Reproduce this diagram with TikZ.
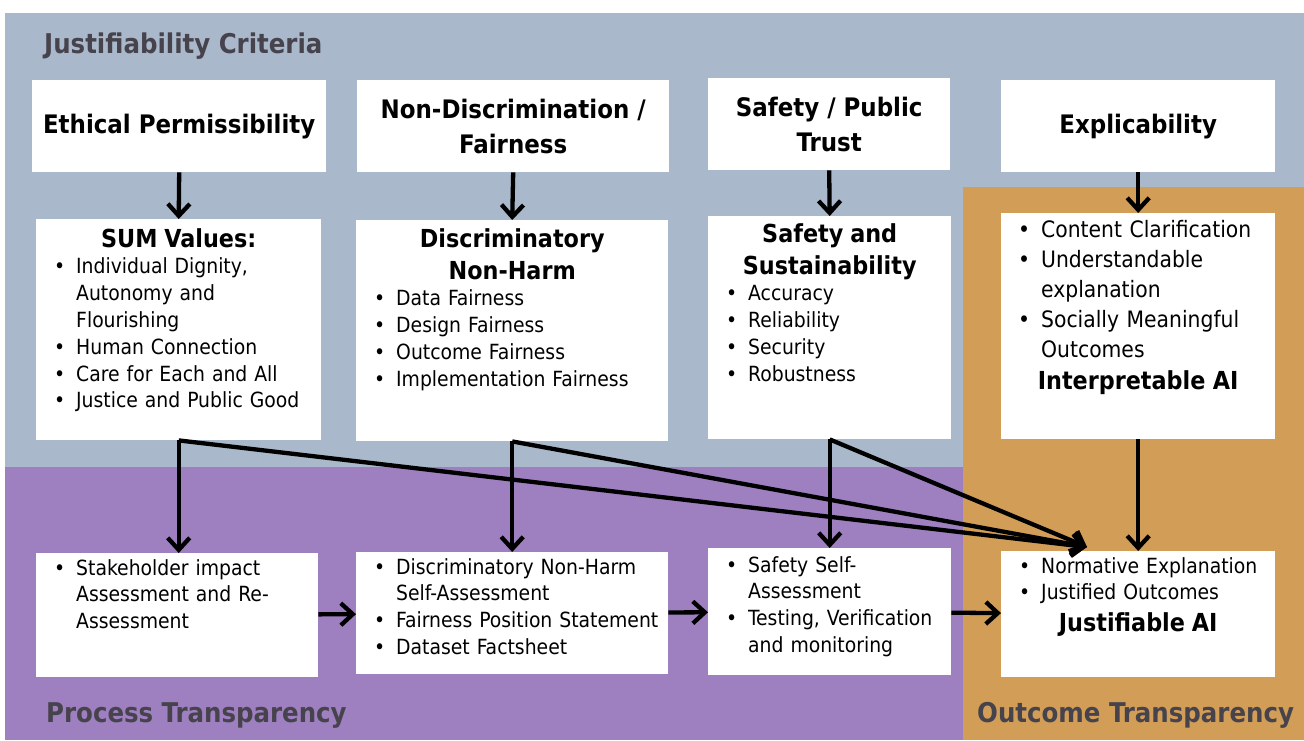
\documentclass[tikz,border=0pt]{standalone}
\usepackage{fontspec}
\setmainfont{DejaVu Sans Condensed}
\usepackage{tikz}
\usetikzlibrary{positioning,arrows.meta}

\definecolor{critblue}{HTML}{A9B8CA}
\definecolor{procpurple}{HTML}{9E7FC0}
\definecolor{outorange}{HTML}{D29E57}
\definecolor{lblgray}{HTML}{47434D}

\newcommand{\bodyfont}{\fontsize{20.9}{26.8}\selectfont}
\newcommand{\bigbody}{\fontsize{22.6}{30}\selectfont}
\newcommand{\headfont}{\fontsize{25.5}{35}\selectfont\bfseries}
\newcommand{\subhead}{\fontsize{24.8}{32}\selectfont\bfseries}
\newcommand{\areafont}{\fontsize{27.2}{30}\selectfont\bfseries}

\newenvironment{pts}{\begin{list}{\textbullet}{\setlength{\leftmargin}{36pt}%
  \setlength{\labelwidth}{14pt}\setlength{\labelsep}{11pt}\setlength{\itemsep}{0pt}%
  \setlength{\topsep}{0pt}\setlength{\parsep}{0pt}\setlength{\partopsep}{0pt}}}{\end{list}}

\begin{document}
\begin{tikzpicture}[x=1pt,y=-1pt]
    \tikzstyle{box}=[fill=white,inner sep=0pt,anchor=north west]
    \tikzstyle{crit}=[box,font=\headfont,align=center,minimum height=92pt]
    \tikzstyle{body}=[inner sep=0pt,align=left,font=\bodyfont]
    \tikzstyle{area}=[font=\areafont,text=lblgray,inner sep=0pt,anchor=base west]
    \tikzstyle{arr}=[-{Straight Barb[length=12pt,width=22pt]},line width=4.3pt]

    \useasboundingbox (0,0) rectangle (1304,740);
    \fill[critblue] (5,13) rectangle (1304,467);
    \fill[procpurple] (5,467) rectangle (963,740);
    \fill[outorange] (963,187) rectangle (1304,740);

    \node[area] (crit-lbl) at (44,53) {Justifiability Criteria};
    \node[area] (proc-lbl) at (46,722) {Process Transparency};
    \node[area] (out-lbl) at (977,722) {Outcome Transparency};

    % criteria row
    \node[crit,minimum width=294pt] (ethic) at (32,80) {Ethical Permissibility};
    \node[crit,minimum width=312pt] (nondisc) at (357,80) {Non-Discrimination /\\Fairness};
    \node[crit,minimum width=242pt] (trust) at (708,78) {Safety / Public\\Trust};
    \node[crit,minimum width=274pt] (expl) at (1001,80) {Explicability};

    % values row
    \node[box,minimum width=285pt,minimum height=221pt] (sum) at (36,219) {};
    \node[box,minimum width=312pt,minimum height=221pt] (harm) at (356,220) {};
    \node[box,minimum width=243pt,minimum height=223pt] (sust) at (708,216) {};
    \node[box,minimum width=274pt,minimum height=226pt] (interp) at (1001,213) {};

    \node[body,text width=277pt,below=9pt of sum.north] (sum-txt) {{\centering\subhead SUM Values:\par}
        \begin{pts}\item Individual Dignity,\\Autonomy and\\Flourishing \item Human Connection
        \item Care for Each and All \item Justice and Public Good\end{pts}};
    \node[body,text width=304pt,below=8pt of harm.north] (harm-txt) {{\centering\subhead Discriminatory\\Non-Harm\par}
        \begin{pts}\item Data Fairness \item Design Fairness \item Outcome Fairness
        \item Implementation Fairness\end{pts}};
    \node[body,text width=235pt,below=7pt of sust.north] (sust-txt) {{\centering\subhead Safety and\\Sustainability\par}
        \begin{pts}\item Accuracy \item Reliability \item Security \item Robustness\end{pts}};
    \node[body,font=\bigbody,text width=266pt,below=-6pt of interp.north] (interp-txt) {\begin{pts}
        \item Content Clarification \item Understandable\\explanation
        \item Socially Meaningful\\Outcomes\end{pts}
        {\centering\subhead Interpretable AI\par}};

    % transparency row
    \node[box,minimum width=282pt,minimum height=124pt] (stake) at (36,553) {};
    \node[box,minimum width=312pt,minimum height=122pt] (harm-sa) at (356,552) {};
    \node[box,minimum width=243pt,minimum height=127pt] (safe-sa) at (708,548) {};
    \node[box,minimum width=274pt,minimum height=126pt] (just) at (1001,551) {};

    \node[body,text width=274pt,below=-5pt of stake.north] (stake-txt) {\begin{pts}
        \item Stakeholder impact\\Assessment and Re-\\Assessment\end{pts}};
    \node[body,text width=304pt,below=-5pt of harm-sa.north] (harm-sa-txt) {\begin{pts}
        \item Discriminatory Non-Harm\\Self-Assessment \item Fairness Position Statement
        \item Dataset Factsheet\end{pts}};
    \node[body,text width=235pt,below=-3pt of safe-sa.north] (safe-sa-txt) {\begin{pts}
        \item Safety Self-\\Assessment \item Testing, Verification\\and monitoring\end{pts}};
    \node[body,text width=266pt,below=-5pt of just.north] (just-txt) {\begin{pts}
        \item Normative Explanation \item Justified Outcomes\end{pts}
        {\centering\subhead Justifiable AI\par}};

    \foreach \from/\to in {ethic/sum, nondisc/harm, trust/sust, expl/interp, interp/just}
        \draw[arr] (\from.south) -- (\to.north);

    \path (just.north west) ++(86,-4) coordinate (conv);
    \foreach \src/\dst in {sum/stake, harm/harm-sa, sust/safe-sa} {
        \draw[arr] (\src.south) -- (\src.south |- \dst.north);
        \draw[arr] (\src.south) -- (conv);
    }

    \foreach \from/\to in {stake/harm-sa, harm-sa/safe-sa, safe-sa/just}
        \draw[arr] (\from) -- (\to);
\end{tikzpicture}
\end{document}
